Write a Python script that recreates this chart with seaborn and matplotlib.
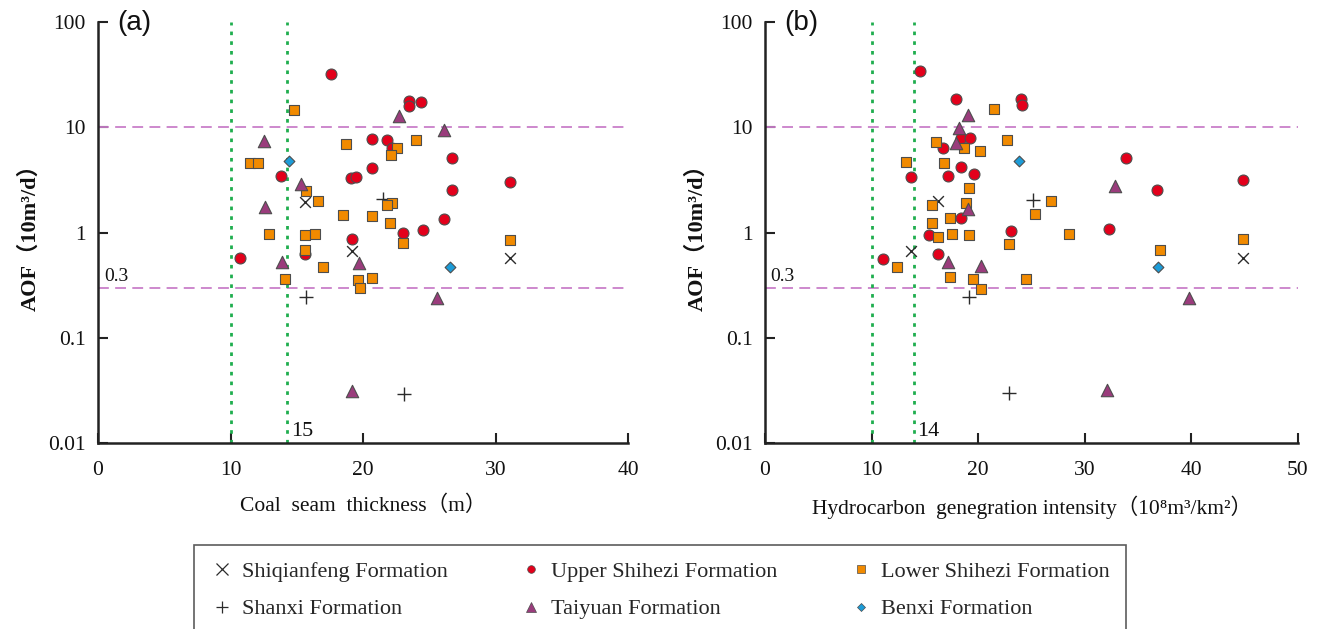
import matplotlib
matplotlib.use("Agg")
import matplotlib.pyplot as plt
import seaborn as sns
import pandas as pd
from matplotlib import ticker
from matplotlib.lines import Line2D

# ---------------- data ----------------
formations = ["Shiqianfeng Formation", "Shanxi Formation", "Upper Shihezi Formation",
              "Lower Shihezi Formation", "Taiyuan Formation", "Benxi Formation"]

# Panel (a): coal seam thickness (m) vs AOF
a_shiqianfeng_x = [15.6, 19.2, 31.1]
a_shiqianfeng_y = [1.97, 0.66, 0.57]
a_shanxi_x = [21.5, 15.7, 23.1]
a_shanxi_y = [2.07, 0.245, 0.029]
a_upper_x = [17.6, 23.5, 23.5, 24.4, 20.7, 21.8, 22.2, 26.7, 20.7, 19.1,
             19.5, 13.8, 26.7, 26.1, 24.5, 23.0, 19.2, 15.6, 10.7, 31.1]
a_upper_y = [32.4, 17.9, 15.8, 17.4, 7.66, 7.6, 6.4, 5.07, 4.07, 3.3,
             3.37, 3.47, 2.52, 1.34, 1.06, 1.0, 0.87, 0.63, 0.57, 3.0]
a_lower_x = [14.8, 18.7, 22.6, 22.1, 24.0, 11.5, 12.1, 15.7, 16.6, 22.2,
             21.8, 18.5, 20.7, 22.0, 12.9, 15.6, 16.4, 23.0, 15.6, 17.0,
             14.1, 19.6, 20.7, 19.8, 31.1]
a_lower_y = [14.5, 6.9, 6.3, 5.5, 7.55, 4.57, 4.57, 2.48, 2.01, 1.9,
             1.81, 1.47, 1.44, 1.23, 0.975, 0.94, 0.97, 0.79, 0.68, 0.47,
             0.363, 0.35, 0.37, 0.294, 0.85]
a_taiyuan_x = [22.7, 26.1, 12.5, 15.3, 12.6, 13.9, 19.7, 25.6, 19.2]
a_taiyuan_y = [12.9, 9.4, 7.4, 2.89, 1.73, 0.53, 0.51, 0.237, 0.031]
a_benxi_x = [14.4, 26.6]
a_benxi_y = [4.78, 0.47]

# Panel (b): hydrocarbon generation intensity vs AOF
b_shiqianfeng_x = [16.2, 13.7, 44.8]
b_shiqianfeng_y = [2.0, 0.67, 0.57]
b_shanxi_x = [25.1, 19.1, 22.9]
b_shanxi_y = [2.04, 0.244, 0.030]
b_upper_x = [14.5, 17.9, 24.0, 24.1, 18.4, 19.2, 16.7, 18.4, 13.7, 17.2,
             19.6, 18.4, 15.4, 23.1, 16.2, 11.1, 33.9, 36.8, 32.3, 44.8]
b_upper_y = [33.9, 18.6, 18.6, 16.2, 7.9, 7.9, 6.35, 4.23, 3.35, 3.47,
             3.6, 1.37, 0.94, 1.04, 0.63, 0.565, 5.06, 2.52, 1.08, 3.14]
b_lower_x = [21.5, 22.7, 16.0, 18.7, 20.2, 13.2, 16.8, 19.1, 15.7, 18.9,
             17.4, 15.7, 16.2, 17.5, 19.1, 22.9, 12.4, 17.4, 19.5, 24.5,
             20.3, 26.8, 25.3, 28.5, 37.1, 44.8]
b_lower_y = [14.8, 7.6, 7.2, 6.3, 6.0, 4.67, 4.57, 2.67, 1.83, 1.91,
             1.37, 1.22, 0.91, 0.97, 0.95, 0.78, 0.47, 0.377, 0.36, 0.36,
             0.29, 2.0, 1.51, 0.97, 0.68, 0.87]
b_taiyuan_x = [19.0, 18.2, 17.9, 19.0, 17.2, 20.3, 32.8, 39.8, 32.1]
b_taiyuan_y = [13.1, 9.9, 7.1, 1.66, 0.52, 0.48, 2.75, 0.24, 0.032]
b_benxi_x = [23.8, 36.9]
b_benxi_y = [4.82, 0.47]

yticks = [0.01, 0.1, 1, 10, 100]
yticklabels = ["0.01", "0.1", "1", "10", "100"]
a_xticks = [0, 10, 20, 30, 40]
b_xticks = [0, 10, 20, 30, 40, 50]
a_vlines = [10, 14.3]
b_vlines = [10, 14]
hlines = [10, 0.3]


def make_df(parts):
    rows = []
    for name, xs, ys in parts:
        for x, y in zip(xs, ys):
            rows.append({"x": x, "y": y, "formation": name})
    return pd.DataFrame(rows)


df_a = make_df([
    ("Shiqianfeng Formation", a_shiqianfeng_x, a_shiqianfeng_y),
    ("Shanxi Formation", a_shanxi_x, a_shanxi_y),
    ("Upper Shihezi Formation", a_upper_x, a_upper_y),
    ("Lower Shihezi Formation", a_lower_x, a_lower_y),
    ("Taiyuan Formation", a_taiyuan_x, a_taiyuan_y),
    ("Benxi Formation", a_benxi_x, a_benxi_y),
])
df_b = make_df([
    ("Shiqianfeng Formation", b_shiqianfeng_x, b_shiqianfeng_y),
    ("Shanxi Formation", b_shanxi_x, b_shanxi_y),
    ("Upper Shihezi Formation", b_upper_x, b_upper_y),
    ("Lower Shihezi Formation", b_lower_x, b_lower_y),
    ("Taiyuan Formation", b_taiyuan_x, b_taiyuan_y),
    ("Benxi Formation", b_benxi_x, b_benxi_y),
])

# ---------------- style ----------------
sns.set_style("ticks")
plt.rcParams["font.family"] = ["Liberation Serif", "Noto Sans CJK SC", "DejaVu Serif"]
plt.rcParams["axes.unicode_minus"] = False

EDGE = "#4d4d4d"
styles = {
    "Shiqianfeng Formation": dict(marker="x", color="#2b2b2b", s=60, linewidth=1.0),
    "Shanxi Formation": dict(marker="+", color="#2b2b2b", s=110, linewidth=1.0),
    "Upper Shihezi Formation": dict(marker="o", color="#e3001b", s=62, edgecolor=EDGE, linewidth=0.8),
    "Lower Shihezi Formation": dict(marker="s", color="#f18a00", s=52, edgecolor=EDGE, linewidth=0.8),
    "Taiyuan Formation": dict(marker="^", color="#9a3c7c", s=80, edgecolor=EDGE, linewidth=0.8),
    "Benxi Formation": dict(marker="D", color="#1c9cd8", s=30, edgecolor=EDGE, linewidth=0.8),
}

fig = plt.figure(figsize=(13.22, 6.29), dpi=100)
ax_a = fig.add_axes([98 / 1322, 1 - 443 / 629, 530 / 1322, 421 / 629])
ax_b = fig.add_axes([765 / 1322, 1 - 443 / 629, 533 / 1322, 421 / 629])


def draw(ax, df, xlim, xticks, vlines, vlabel, panel, xlabel):
    ax.set_yscale("log")
    for h in hlines:
        ax.axhline(h, color="#c97fc9", lw=1.3, ls=(0, (6, 3.5)), zorder=1)
    for v in vlines:
        ax.axvline(v, color="#1fae4e", lw=2.0, ls=(0, (1.3, 2.2)), zorder=1)
    for name in formations:
        sub = df[df["formation"] == name]
        sns.scatterplot(data=sub, x="x", y="y", ax=ax, legend=False, zorder=3,
                        **styles[name])
    ax.set_xlim(*xlim)
    ax.set_ylim(0.01, 100)
    ax.set_xticks(xticks)
    ax.set_xticklabels([str(t) for t in xticks])
    ax.yaxis.set_major_locator(ticker.FixedLocator(yticks))
    ax.yaxis.set_major_formatter(ticker.FixedFormatter(yticklabels))
    ax.yaxis.set_minor_locator(ticker.NullLocator())
    ax.xaxis.set_minor_locator(ticker.NullLocator())
    for sp in ["top", "right"]:
        ax.spines[sp].set_visible(False)
    for sp in ["left", "bottom"]:
        ax.spines[sp].set_linewidth(1.8)
        ax.spines[sp].set_color("#222222")
    ax.tick_params(direction="in", length=7, width=1.5, color="#222222",
                   labelsize=15.5, labelcolor="#111111")
    ax.tick_params(axis="x", pad=13)
    ax.tick_params(axis="y", pad=9)
    ax.set_xlabel(xlabel, fontsize=15.5, labelpad=11, color="#111111")
    ax.set_ylabel("AOF（10m³/d）", fontsize=16, fontweight="bold", labelpad=5,
                  color="#111111")
    ax.text(0.5, 0.315, "0.3", fontsize=14, ha="left", va="bottom", color="#111111")
    ax.text(vlines[1] + 0.25, 0.0104, vlabel, fontsize=16, ha="left", va="bottom",
            color="#111111")
    ax.text(0.036, 1.028, panel, transform=ax.transAxes, fontsize=20,
            family="Liberation Sans", ha="left", va="top", color="#111111")
    ax.grid(False)


draw(ax_a, df_a, (0, 40), a_xticks, a_vlines, "15", "(a)",
     "Coal  seam  thickness（m）")
draw(ax_b, df_b, (0, 50), b_xticks, b_vlines, "14", "(b)",
     "Hydrocarbon  genegration intensity（10⁸m³/km²）")

# ---------------- legend ----------------
leg_order = ["Shiqianfeng Formation", "Shanxi Formation", "Upper Shihezi Formation",
             "Taiyuan Formation", "Lower Shihezi Formation", "Benxi Formation"]
handles = []
for name in leg_order:
    st = styles[name]
    if st["marker"] in ("x", "+"):
        h = Line2D([], [], ls="", marker=st["marker"], color=st["color"],
                   markersize=8, markeredgewidth=0.9)
    else:
        ms = {"o": 5.5, "s": 5.5, "^": 7, "D": 4.5}[st["marker"]]
        h = Line2D([], [], ls="", marker=st["marker"], markerfacecolor=st["color"],
                   markeredgecolor=EDGE, markeredgewidth=0.5, markersize=ms)
    handles.append(h)

leg = fig.legend(handles, leg_order, ncol=3, loc="upper center",
                 bbox_to_anchor=(660 / 1322, 1 - 545 / 629),
                 frameon=True, fancybox=False, fontsize=16,
                 handlelength=1.0, handletextpad=0.4, borderpad=0.75,
                 labelspacing=0.75, columnspacing=3.25, borderaxespad=0.0)
leg.get_frame().set_edgecolor("#333333")
leg.get_frame().set_linewidth(1.2)

fig.savefig("out.png", dpi=100, facecolor="white")
